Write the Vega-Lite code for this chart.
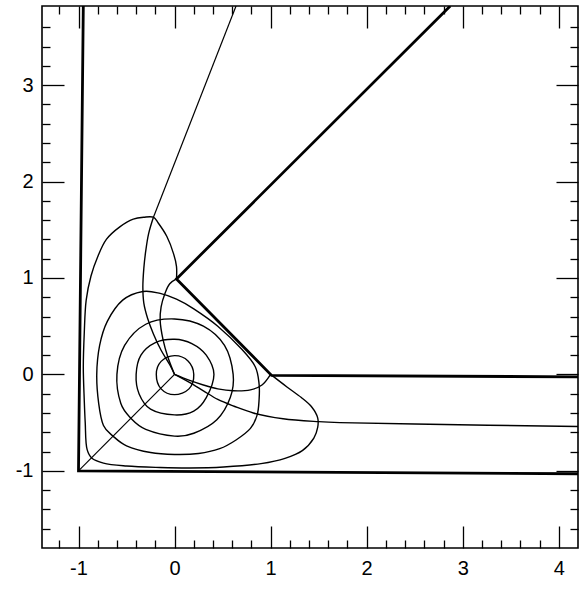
{
  "$schema": "https://vega.github.io/schema/vega-lite/v6.json",
  "width": 536,
  "height": 542,
  "autosize": {"type": "none"},
  "padding": {"left": 42, "top": 6, "right": 9, "bottom": 42},
  "background": "white",
  "config": {"view": {"stroke": "#000", "strokeWidth": 1.6}},
  "datasets": {
    "smooth": [
      {"c": "outer", "i": 0, "x": 1.0, "y": 0.0}, {"c": "outer", "i": 1, "x": 1.17, "y": -0.13}, {"c": "outer", "i": 2, "x": 1.32, "y": -0.24}, {"c": "outer", "i": 3, "x": 1.43, "y": -0.34}, {"c": "outer", "i": 4, "x": 1.49, "y": -0.45}, {"c": "outer", "i": 5, "x": 1.49, "y": -0.55}, {"c": "outer", "i": 6, "x": 1.45, "y": -0.66}, {"c": "outer", "i": 7, "x": 1.33, "y": -0.79}, {"c": "outer", "i": 8, "x": 1.15, "y": -0.87}, {"c": "outer", "i": 9, "x": 0.9, "y": -0.925}, {"c": "outer", "i": 10, "x": 0.51, "y": -0.96}, {"c": "outer", "i": 11, "x": 0.16, "y": -0.97}, {"c": "outer", "i": 12, "x": -0.15, "y": -0.965}, {"c": "outer", "i": 13, "x": -0.5, "y": -0.95}, {"c": "outer", "i": 14, "x": -0.74, "y": -0.92}, {"c": "outer", "i": 15, "x": -0.86, "y": -0.87}, {"c": "outer", "i": 16, "x": -0.91, "y": -0.78}, {"c": "outer", "i": 17, "x": -0.93, "y": -0.5}, {"c": "outer", "i": 18, "x": -0.94, "y": -0.27}, {"c": "outer", "i": 19, "x": -0.95, "y": 0.08}, {"c": "outer", "i": 20, "x": -0.94, "y": 0.43}, {"c": "outer", "i": 21, "x": -0.92, "y": 0.77}, {"c": "outer", "i": 22, "x": -0.87, "y": 1.02}, {"c": "outer", "i": 23, "x": -0.8, "y": 1.22}, {"c": "outer", "i": 24, "x": -0.71, "y": 1.4}, {"c": "outer", "i": 25, "x": -0.57, "y": 1.53}, {"c": "outer", "i": 26, "x": -0.43, "y": 1.61}, {"c": "outer", "i": 27, "x": -0.32, "y": 1.63}, {"c": "outer", "i": 28, "x": -0.22, "y": 1.63}, {"c": "outer", "i": 29, "x": -0.17, "y": 1.57}, {"c": "outer", "i": 30, "x": -0.08, "y": 1.43}, {"c": "outer", "i": 31, "x": -0.01, "y": 1.25}, {"c": "outer", "i": 32, "x": 0.02, "y": 1.12}, {"c": "outer", "i": 33, "x": 0.02, "y": 0.99},
      {"c": "a1", "i": 0, "x": 0.0, "y": 0.0}, {"c": "a1", "i": 1, "x": -0.05, "y": 0.1}, {"c": "a1", "i": 2, "x": -0.14, "y": 0.25}, {"c": "a1", "i": 3, "x": -0.22, "y": 0.42}, {"c": "a1", "i": 4, "x": -0.28, "y": 0.58}, {"c": "a1", "i": 5, "x": -0.32, "y": 0.74}, {"c": "a1", "i": 6, "x": -0.33, "y": 0.9}, {"c": "a1", "i": 7, "x": -0.32, "y": 1.1}, {"c": "a1", "i": 8, "x": -0.3, "y": 1.28}, {"c": "a1", "i": 9, "x": -0.27, "y": 1.46}, {"c": "a1", "i": 10, "x": -0.22, "y": 1.63},
      {"c": "b", "i": 0, "x": 0.0, "y": 0.0}, {"c": "b", "i": 1, "x": -0.07, "y": 0.18}, {"c": "b", "i": 2, "x": -0.12, "y": 0.36}, {"c": "b", "i": 3, "x": -0.15, "y": 0.56}, {"c": "b", "i": 4, "x": -0.14, "y": 0.7}, {"c": "b", "i": 5, "x": -0.1, "y": 0.84}, {"c": "b", "i": 6, "x": -0.05, "y": 0.94}, {"c": "b", "i": 7, "x": 0.02, "y": 0.99},
      {"c": "c", "i": 0, "x": 0.0, "y": 0.0}, {"c": "c", "i": 1, "x": 0.15, "y": -0.06}, {"c": "c", "i": 2, "x": 0.3, "y": -0.11}, {"c": "c", "i": 3, "x": 0.45, "y": -0.15}, {"c": "c", "i": 4, "x": 0.61, "y": -0.17}, {"c": "c", "i": 5, "x": 0.79, "y": -0.16}, {"c": "c", "i": 6, "x": 0.91, "y": -0.11}, {"c": "c", "i": 7, "x": 1.0, "y": 0.0},
      {"c": "d", "i": 0, "x": 0.0, "y": 0.0}, {"c": "d", "i": 1, "x": 0.15, "y": -0.08}, {"c": "d", "i": 2, "x": 0.3, "y": -0.17}, {"c": "d", "i": 3, "x": 0.45, "y": -0.26}, {"c": "d", "i": 4, "x": 0.62, "y": -0.33}, {"c": "d", "i": 5, "x": 0.82, "y": -0.4}, {"c": "d", "i": 6, "x": 1.13, "y": -0.46}, {"c": "d", "i": 7, "x": 1.5, "y": -0.49}, {"c": "d", "i": 8, "x": 1.72, "y": -0.5}, {"c": "d", "i": 9, "x": 2.5, "y": -0.515}, {"c": "d", "i": 10, "x": 4.2, "y": -0.54}
    ],
    "rings": [
      {"c": "r1", "i": 0, "x": 0.2, "y": 0.0}, {"c": "r1", "i": 1, "x": 0.14, "y": 0.14}, {"c": "r1", "i": 2, "x": 0.0, "y": 0.195}, {"c": "r1", "i": 3, "x": -0.14, "y": 0.135}, {"c": "r1", "i": 4, "x": -0.19, "y": 0.0}, {"c": "r1", "i": 5, "x": -0.14, "y": -0.15}, {"c": "r1", "i": 6, "x": 0.0, "y": -0.21}, {"c": "r1", "i": 7, "x": 0.15, "y": -0.15},
      {"c": "r2", "i": 0, "x": 0.41, "y": 0.0}, {"c": "r2", "i": 1, "x": 0.33, "y": 0.2}, {"c": "r2", "i": 2, "x": 0.18, "y": 0.32}, {"c": "r2", "i": 3, "x": 0.0, "y": 0.365}, {"c": "r2", "i": 4, "x": -0.2, "y": 0.33}, {"c": "r2", "i": 5, "x": -0.35, "y": 0.2}, {"c": "r2", "i": 6, "x": -0.4, "y": 0.0}, {"c": "r2", "i": 7, "x": -0.37, "y": -0.2}, {"c": "r2", "i": 8, "x": -0.25, "y": -0.36}, {"c": "r2", "i": 9, "x": 0.0, "y": -0.42}, {"c": "r2", "i": 10, "x": 0.2, "y": -0.38}, {"c": "r2", "i": 11, "x": 0.33, "y": -0.24},
      {"c": "r3", "i": 0, "x": 0.61, "y": 0.0}, {"c": "r3", "i": 1, "x": 0.52, "y": 0.3}, {"c": "r3", "i": 2, "x": 0.3, "y": 0.5}, {"c": "r3", "i": 3, "x": 0.0, "y": 0.575}, {"c": "r3", "i": 4, "x": -0.3, "y": 0.52}, {"c": "r3", "i": 5, "x": -0.52, "y": 0.3}, {"c": "r3", "i": 6, "x": -0.6, "y": 0.0}, {"c": "r3", "i": 7, "x": -0.56, "y": -0.3}, {"c": "r3", "i": 8, "x": -0.45, "y": -0.46}, {"c": "r3", "i": 9, "x": -0.3, "y": -0.57}, {"c": "r3", "i": 10, "x": 0.0, "y": -0.64}, {"c": "r3", "i": 11, "x": 0.2, "y": -0.61}, {"c": "r3", "i": 12, "x": 0.44, "y": -0.47}, {"c": "r3", "i": 13, "x": 0.58, "y": -0.24},
      {"c": "r4", "i": 0, "x": 0.88, "y": -0.1}, {"c": "r4", "i": 1, "x": 0.84, "y": 0.08}, {"c": "r4", "i": 2, "x": 0.7, "y": 0.26}, {"c": "r4", "i": 3, "x": 0.45, "y": 0.5}, {"c": "r4", "i": 4, "x": 0.2, "y": 0.68}, {"c": "r4", "i": 5, "x": 0.02, "y": 0.78}, {"c": "r4", "i": 6, "x": -0.15, "y": 0.84}, {"c": "r4", "i": 7, "x": -0.33, "y": 0.86}, {"c": "r4", "i": 8, "x": -0.54, "y": 0.77}, {"c": "r4", "i": 9, "x": -0.7, "y": 0.55}, {"c": "r4", "i": 10, "x": -0.78, "y": 0.3}, {"c": "r4", "i": 11, "x": -0.81, "y": 0.0}, {"c": "r4", "i": 12, "x": -0.79, "y": -0.3}, {"c": "r4", "i": 13, "x": -0.74, "y": -0.53}, {"c": "r4", "i": 14, "x": -0.64, "y": -0.64}, {"c": "r4", "i": 15, "x": -0.5, "y": -0.74}, {"c": "r4", "i": 16, "x": -0.25, "y": -0.81}, {"c": "r4", "i": 17, "x": 0.0, "y": -0.83}, {"c": "r4", "i": 18, "x": 0.25, "y": -0.82}, {"c": "r4", "i": 19, "x": 0.47, "y": -0.77}, {"c": "r4", "i": 20, "x": 0.64, "y": -0.68}, {"c": "r4", "i": 21, "x": 0.79, "y": -0.56}, {"c": "r4", "i": 22, "x": 0.86, "y": -0.42}, {"c": "r4", "i": 23, "x": 0.88, "y": -0.26}
    ],
    "straight": [
      {"c": "a2", "i": 0, "x": -0.22, "y": 1.63}, {"c": "a2", "i": 1, "x": 0.64, "y": 3.82},
      {"c": "e", "i": 0, "x": 0.0, "y": 0.0}, {"c": "e", "i": 1, "x": -1.0, "y": -1.0}
    ],
    "thick": [
      {"c": "L", "i": 0, "x": -0.95, "y": 3.82}, {"c": "L", "i": 1, "x": -1.0, "y": -1.0}, {"c": "L", "i": 2, "x": 4.2, "y": -1.03},
      {"c": "D", "i": 0, "x": 2.87, "y": 3.82}, {"c": "D", "i": 1, "x": 0.02, "y": 0.99}, {"c": "D", "i": 2, "x": 1.01, "y": -0.01}, {"c": "D", "i": 3, "x": 4.2, "y": -0.025}
    ]
  },
  "layer": [
    {
      "data": {"name": "smooth"},
      "mark": {"type": "line", "interpolate": "catmull-rom", "stroke": "#000", "strokeWidth": 1.4, "clip": true},
      "encoding": {
        "x": {"field": "x", "type": "quantitative", "scale": {"domain": [-1.38, 4.2], "nice": false, "zero": false},
          "axis": {"orient": "bottom", "title": null, "grid": false, "domain": false,
            "values": [-1.2, -1, -0.8, -0.6, -0.4, -0.2, 0, 0.2, 0.4, 0.6, 0.8, 1, 1.2, 1.4, 1.6, 1.8, 2, 2.2, 2.4, 2.6, 2.8, 3, 3.2, 3.4, 3.6, 3.8, 4],
            "tickColor": "#000", "tickWidth": 1.3,
            "tickSize": {"condition": {"test": "abs(datum.value - round(datum.value)) < 0.01", "value": -22}, "value": -8},
            "labelExpr": "abs(datum.value - round(datum.value)) < 0.01 ? '' + round(datum.value) : ''",
            "labelPadding": 32, "labelFont": "Liberation Sans", "labelFontSize": 20, "labelColor": "#000", "labelFlush": false, "labelOverlap": false}},
        "y": {"field": "y", "type": "quantitative", "scale": {"domain": [-1.8, 3.82], "nice": false, "zero": false},
          "axis": {"orient": "left", "title": null, "grid": false, "domain": false,
            "values": [-1.6, -1.4, -1.2, -1, -0.8, -0.6, -0.4, -0.2, 0, 0.2, 0.4, 0.6, 0.8, 1, 1.2, 1.4, 1.6, 1.8, 2, 2.2, 2.4, 2.6, 2.8, 3, 3.2, 3.4, 3.6],
            "tickColor": "#000", "tickWidth": 1.3,
            "tickSize": {"condition": {"test": "abs(datum.value - round(datum.value)) < 0.01", "value": -22}, "value": -8},
            "labelExpr": "abs(datum.value - round(datum.value)) < 0.01 ? '' + round(datum.value) : ''",
            "labelPadding": 31, "labelFont": "Liberation Sans", "labelFontSize": 20, "labelColor": "#000", "labelFlush": false, "labelOverlap": false}},
        "detail": {"field": "c"},
        "order": {"field": "i", "type": "quantitative"}
      }
    },
    {
      "data": {"name": "rings"},
      "mark": {"type": "line", "interpolate": "cardinal-closed", "tension": 0, "stroke": "#000", "strokeWidth": 1.4, "clip": true},
      "encoding": {
        "x": {"field": "x", "type": "quantitative", "scale": {"domain": [-1.38, 4.2], "nice": false, "zero": false},
          "axis": {"orient": "top", "title": null, "grid": false, "domain": false, "labels": false,
            "values": [-1.2, -1, -0.8, -0.6, -0.4, -0.2, 0, 0.2, 0.4, 0.6, 0.8, 1, 1.2, 1.4, 1.6, 1.8, 2, 2.2, 2.4, 2.6, 2.8, 3, 3.2, 3.4, 3.6, 3.8, 4],
            "tickColor": "#000", "tickWidth": 1.3,
            "tickSize": {"condition": {"test": "abs(datum.value - round(datum.value)) < 0.01", "value": -22}, "value": -8}}},
        "y": {"field": "y", "type": "quantitative", "scale": {"domain": [-1.8, 3.82], "nice": false, "zero": false},
          "axis": {"orient": "right", "title": null, "grid": false, "domain": false, "labels": false,
            "values": [-1.6, -1.4, -1.2, -1, -0.8, -0.6, -0.4, -0.2, 0, 0.2, 0.4, 0.6, 0.8, 1, 1.2, 1.4, 1.6, 1.8, 2, 2.2, 2.4, 2.6, 2.8, 3, 3.2, 3.4, 3.6],
            "tickColor": "#000", "tickWidth": 1.3,
            "tickSize": {"condition": {"test": "abs(datum.value - round(datum.value)) < 0.01", "value": -22}, "value": -8}}},
        "detail": {"field": "c"},
        "order": {"field": "i", "type": "quantitative"}
      }
    },
    {
      "data": {"name": "straight"},
      "mark": {"type": "line", "interpolate": "linear", "stroke": "#000", "strokeWidth": 1.2, "clip": true},
      "encoding": {
        "x": {"field": "x", "type": "quantitative", "scale": {"domain": [-1.38, 4.2], "nice": false, "zero": false}, "axis": null},
        "y": {"field": "y", "type": "quantitative", "scale": {"domain": [-1.8, 3.82], "nice": false, "zero": false}, "axis": null},
        "detail": {"field": "c"},
        "order": {"field": "i", "type": "quantitative"}
      }
    },
    {
      "data": {"name": "thick"},
      "mark": {"type": "line", "interpolate": "linear", "stroke": "#000", "strokeWidth": 2.8, "clip": true},
      "encoding": {
        "x": {"field": "x", "type": "quantitative", "scale": {"domain": [-1.38, 4.2], "nice": false, "zero": false}, "axis": null},
        "y": {"field": "y", "type": "quantitative", "scale": {"domain": [-1.8, 3.82], "nice": false, "zero": false}, "axis": null},
        "detail": {"field": "c"},
        "order": {"field": "i", "type": "quantitative"}
      }
    }
  ],
  "resolve": {"axis": {"x": "independent", "y": "independent"}}
}
